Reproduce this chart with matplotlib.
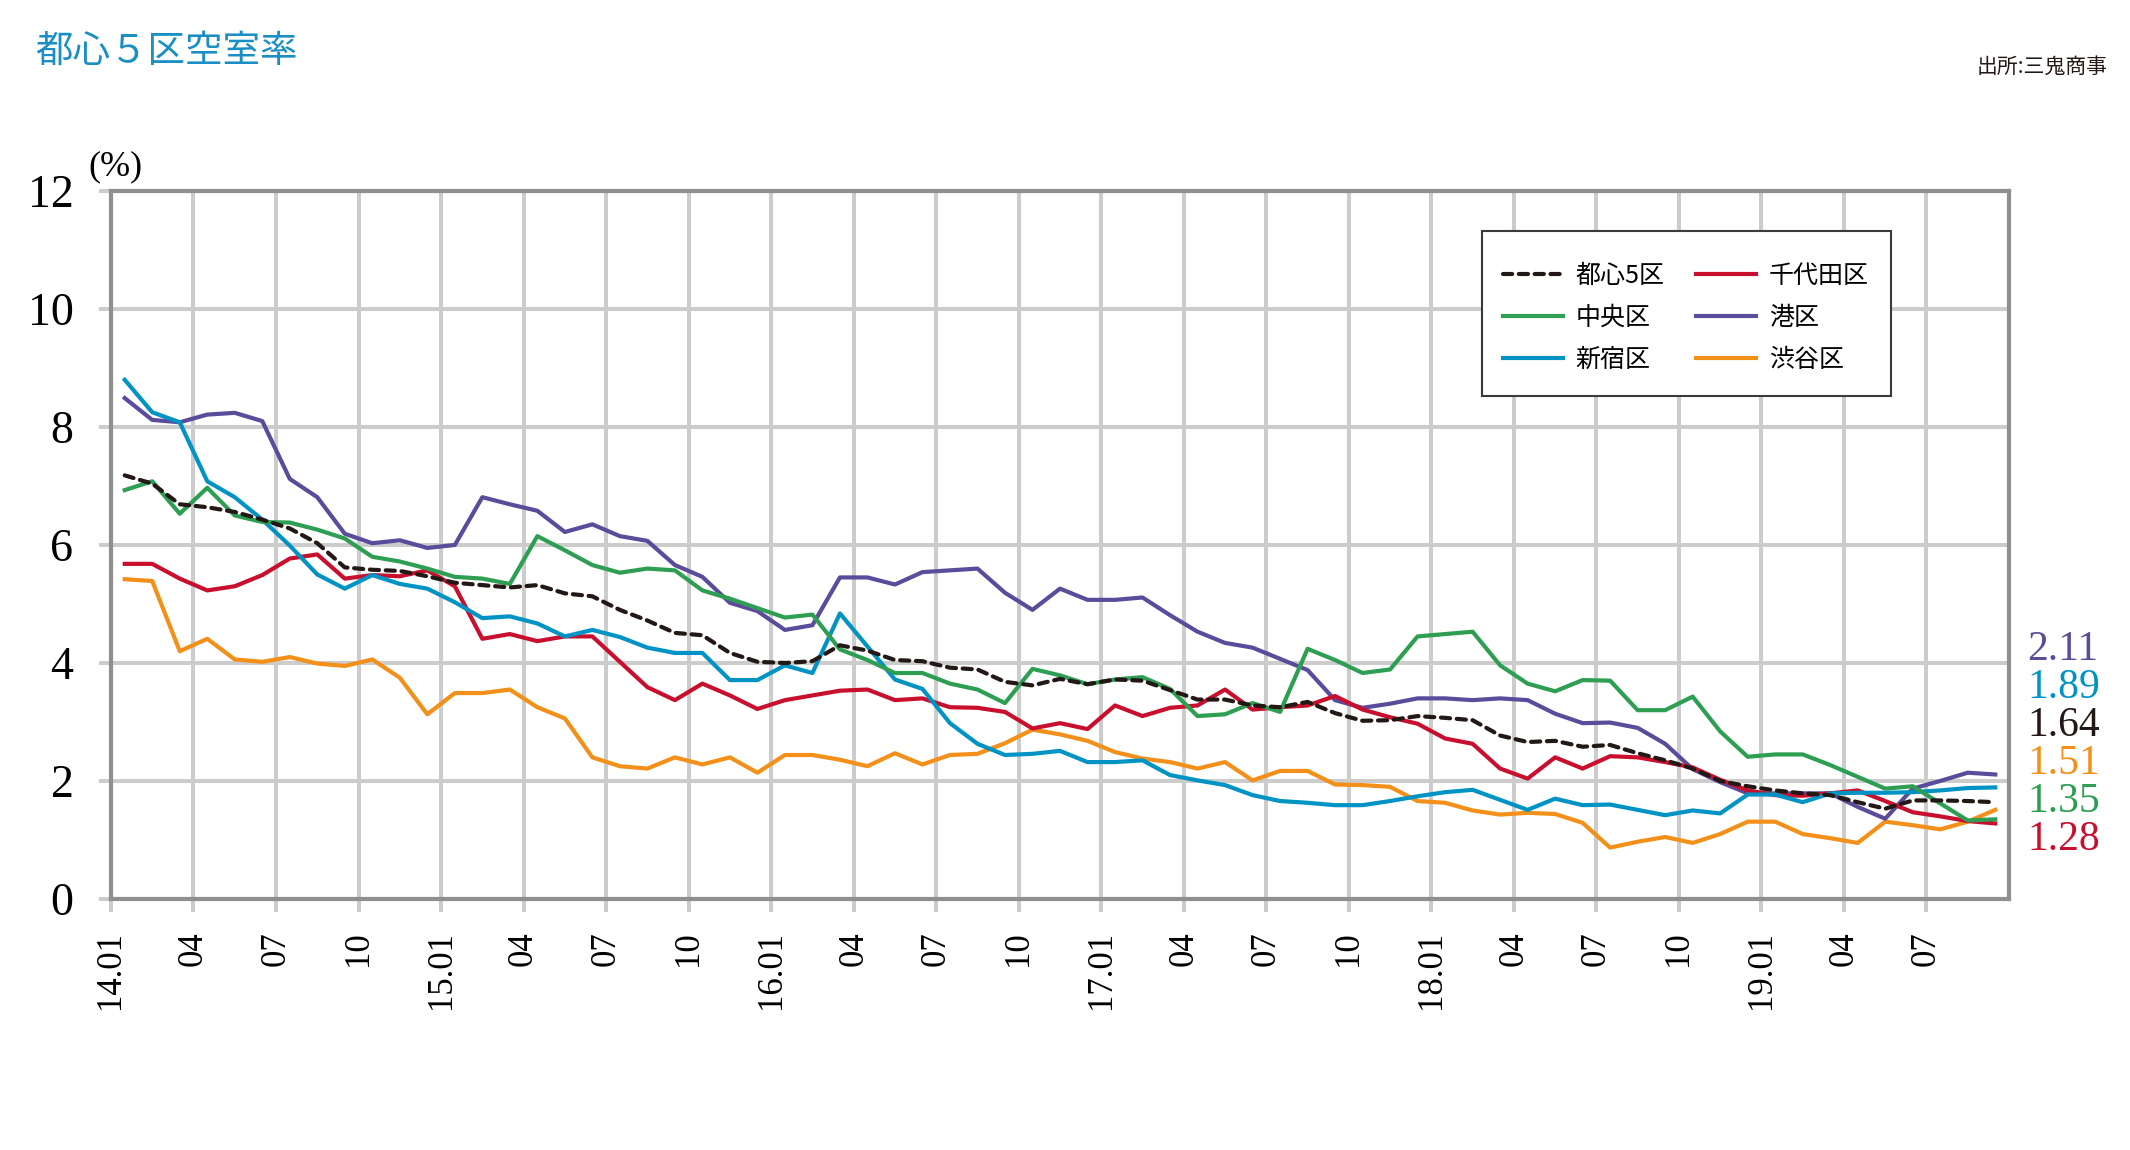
import numpy as np
import matplotlib
matplotlib.use('Agg')
import matplotlib.pyplot as plt
from matplotlib.patches import Rectangle
from matplotlib.font_manager import FontProperties

plt.rcParams['font.family'] = ['Liberation Serif', 'Noto Sans CJK JP']

# monthly vacancy rate (%), 2014.01 - 2019.09
tick_labels = ['14.01', '04', '07', '10', '15.01', '04', '07', '10',
               '16.01', '04', '07', '10', '17.01', '04', '07', '10',
               '18.01', '04', '07', '10', '19.01', '04', '07']

tokyo5 = [7.18, 7.04, 6.69, 6.64, 6.56, 6.43, 6.28, 6.03, 5.62, 5.58, 5.56, 5.47,
          5.36, 5.32, 5.28, 5.32, 5.18, 5.13, 4.90, 4.72, 4.51, 4.47, 4.17, 4.02,
          4.00, 4.03, 4.30, 4.21, 4.05, 4.03, 3.92, 3.89, 3.68, 3.62, 3.73,
          3.64, 3.72, 3.70, 3.54, 3.38, 3.38, 3.28, 3.25, 3.34, 3.15, 3.02, 3.03,
          3.10, 3.07, 3.03, 2.77, 2.66, 2.68, 2.58, 2.61, 2.47, 2.35, 2.21,
          2.00, 1.91, 1.84, 1.79, 1.76, 1.64, 1.53, 1.67, 1.67, 1.66, 1.64]

chuo = [6.93, 7.08, 6.53, 6.97, 6.50, 6.39, 6.38, 6.26, 6.11, 5.80, 5.72, 5.60,
        5.46, 5.43, 5.34, 6.15, 5.91, 5.66, 5.53, 5.60, 5.57, 5.23, 5.09, 4.93,
        4.77, 4.82, 4.23, 4.05, 3.83, 3.83, 3.65, 3.55, 3.32, 3.90, 3.79,
        3.64, 3.72, 3.76, 3.56, 3.10, 3.13, 3.32, 3.17, 4.24, 4.05, 3.83, 3.89,
        4.45, 4.49, 4.53, 3.96, 3.65, 3.52, 3.71, 3.70, 3.20, 3.20, 3.43,
        2.84, 2.41, 2.45, 2.45, 2.27, 2.07, 1.87, 1.91, 1.62, 1.33, 1.35]

shinjuku = [8.80, 8.25, 8.08, 7.08, 6.81, 6.43, 5.99, 5.50, 5.26, 5.49, 5.34, 5.26,
            5.03, 4.76, 4.79, 4.67, 4.45, 4.56, 4.44, 4.26, 4.17, 4.17, 3.71, 3.71,
            3.96, 3.83, 4.84, 4.28, 3.72, 3.56, 2.98, 2.63, 2.44, 2.46, 2.51,
            2.32, 2.32, 2.35, 2.10, 2.01, 1.93, 1.76, 1.66, 1.63, 1.59, 1.59, 1.66,
            1.74, 1.81, 1.85, 1.68, 1.51, 1.70, 1.59, 1.60, 1.51, 1.42, 1.50,
            1.45, 1.77, 1.77, 1.64, 1.79, 1.80, 1.80, 1.81, 1.84, 1.88, 1.89]

chiyoda = [5.68, 5.68, 5.43, 5.23, 5.30, 5.49, 5.77, 5.84, 5.43, 5.49, 5.47, 5.57,
           5.30, 4.41, 4.49, 4.37, 4.45, 4.45, 4.02, 3.59, 3.37, 3.65, 3.45, 3.22,
           3.37, 3.45, 3.53, 3.55, 3.37, 3.40, 3.25, 3.24, 3.17, 2.89, 2.98,
           2.88, 3.28, 3.10, 3.24, 3.28, 3.55, 3.21, 3.25, 3.28, 3.44, 3.21, 3.08,
           2.97, 2.72, 2.63, 2.21, 2.04, 2.40, 2.21, 2.42, 2.40, 2.32, 2.23,
           2.02, 1.84, 1.76, 1.75, 1.79, 1.84, 1.66, 1.47, 1.40, 1.32, 1.28]

minato = [8.49, 8.12, 8.08, 8.21, 8.24, 8.10, 7.12, 6.81, 6.19, 6.03, 6.08, 5.95,
          6.00, 6.81, 6.69, 6.58, 6.22, 6.35, 6.15, 6.07, 5.66, 5.46, 5.02, 4.88,
          4.56, 4.64, 5.45, 5.45, 5.33, 5.54, 5.57, 5.60, 5.19, 4.90, 5.26,
          5.07, 5.07, 5.11, 4.81, 4.53, 4.34, 4.26, 4.07, 3.88, 3.37, 3.24, 3.31,
          3.40, 3.40, 3.37, 3.40, 3.37, 3.14, 2.98, 2.99, 2.90, 2.63, 2.20,
          1.98, 1.79, 1.79, 1.79, 1.79, 1.56, 1.36, 1.87, 2.00, 2.14, 2.11]

shibuya = [5.42, 5.39, 4.20, 4.41, 4.06, 4.02, 4.10, 3.99, 3.95, 4.06, 3.75, 3.13,
           3.49, 3.49, 3.55, 3.25, 3.06, 2.40, 2.25, 2.21, 2.40, 2.28, 2.40, 2.14,
           2.44, 2.44, 2.36, 2.25, 2.47, 2.28, 2.44, 2.46, 2.64, 2.87, 2.79,
           2.68, 2.49, 2.38, 2.32, 2.21, 2.32, 2.01, 2.17, 2.17, 1.94, 1.93, 1.90,
           1.66, 1.63, 1.50, 1.43, 1.46, 1.44, 1.29, 0.87, 0.97, 1.05, 0.95,
           1.10, 1.31, 1.31, 1.10, 1.03, 0.95, 1.31, 1.25, 1.18, 1.31, 1.51]

names = ['都心5区', '中央区', '新宿区', '千代田区', '港区', '渋谷区']
series = [tokyo5, chuo, shinjuku, chiyoda, minato, shibuya]
colors = ['#231815', '#2e9e52', '#0093c4', '#c8102e', '#5b4b9b', '#f39019']

fig = plt.figure(figsize=(21.3, 11.5), dpi=100)
ax = fig.add_axes([0.0521, 0.2183, 0.8911, 0.6156])

x = np.arange(len(tokyo5)) + 0.5

# draw districts first, the 5-ward average dashed on top
handles = {}
for name, vals, col in reversed(list(zip(names, series, colors))):
    if name == '都心5区':
        ln, = ax.plot(x, vals, color=col, lw=3.0, dashes=(2.2, 1.6),
                      dash_capstyle='round', zorder=4)
    else:
        ln, = ax.plot(x, vals, color=col, lw=3.0, zorder=3)
    handles[name] = ln

ax.set_xlim(0, len(tokyo5))
ax.set_ylim(0, 12)
ax.set_xticks(np.arange(0, len(tokyo5), 3))
ax.set_xticklabels(tick_labels, rotation=90, fontsize=25)
ax.set_yticks(range(0, 13, 2))
ax.set_yticklabels([str(v) for v in range(0, 13, 2)], fontsize=33)
ax.grid(color='#cccccc', lw=2.9)
ax.set_axisbelow(True)
ax.tick_params(axis='both', length=9, width=2.9, color='#cccccc')
ax.tick_params(axis='x', pad=14)
ax.tick_params(axis='y', pad=18)
for sp in ax.spines.values():
    sp.set_color('#8f8f8f')
    sp.set_linewidth(3)
    sp.set_zorder(5)

fig.text(0.0413, 0.8548, '(%)', fontsize=26, ha='left', va='center')

# legend box drawn separately so padding can differ per side
ax.add_patch(Rectangle((0.7224, 0.7105), 0.2155, 0.2330, transform=ax.transAxes,
                       facecolor='white', edgecolor='#3a3a3a', lw=1.5,
                       zorder=6))
leg = ax.legend([handles[n] for n in names], names, ncol=2, loc='upper left',
                bbox_to_anchor=(0.7334, 0.899), borderaxespad=0, borderpad=0,
                frameon=False,
                prop=FontProperties(family='Noto Sans CJK JP', size=18),
                handlelength=2.4, handletextpad=0.5, columnspacing=1.28,
                labelspacing=0.65)
leg.set_zorder(7)

# latest values at right side, sorted high to low
last = sorted(zip([s[-1] for s in series], colors), reverse=True)
for i, (v, col) in enumerate(last):
    fig.text(0.9516, 1 - (650 + 38 * i) / 1150, f'{v:.2f}', color=col,
             fontsize=30, ha='left', va='center')

fig.text(0.0164, 0.972, '都心５区空室率', color='#1b8fc4', fontsize=27,
         family=['Noto Sans CJK JP'], ha='left', va='top')
fig.text(0.9897, 0.9417, '出所:三鬼商事', color='#231815', fontsize=15,
         family=['Noto Sans CJK JP'], ha='right', va='center')

fig.savefig('out.png', dpi=100, facecolor='white')
